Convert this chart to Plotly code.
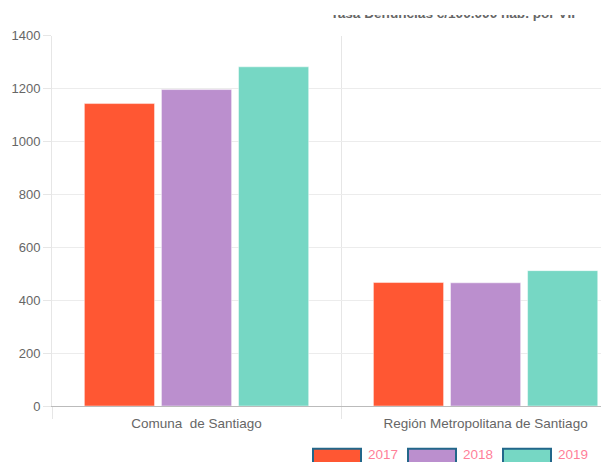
import plotly.graph_objects as go

categories = ["Comuna \u00a0de Santiago", "Región Metropolitana de Santiago"]
years = ["2017", "2018", "2019"]
values_2017 = [1144, 467]
values_2018 = [1197, 466]
values_2019 = [1283, 512]
series_values = [values_2017, values_2018, values_2019]
colors = ["#ff5733", "#bb8fce", "#76d7c4"]
y_ticks = [0, 200, 400, 600, 800, 1000, 1200, 1400]
title_text = "Tasa Denuncias c/100.000 hab. por VIF"

# page offset of the figure (default body margin)
OFF = 8
W, H = 609 - OFF, 462 - OFF
AX_X = 52 - OFF        # y-axis x position (figure px)
Y_TOP = 34 - OFF       # 1400 level
Y_BOT = 406 - OFF      # 0 level
CLIP_Y = 13 - OFF      # title clip line
ML, MT, MB = AX_X, CLIP_Y, H - Y_BOT
plot_h = H - MT - MB
main_top = (Y_BOT - Y_TOP) / plot_h


def px_x(px):
    return (px - OFF - AX_X) / (W - AX_X)


def px_y(py):
    return (Y_BOT - (py - OFF)) / plot_h


fig = go.Figure()
for name, vals, col in zip(years, series_values, colors):
    fig.add_trace(go.Bar(
        x=categories, y=vals, name=name,
        marker=dict(color=col, line=dict(color="rgba(255,255,255,0.45)", width=1)),
        showlegend=False, hoverinfo="x+y+name",
    ))

# clipped title (text trace on an overlay axis, clipped to its area)
fig.add_trace(go.Scatter(
    x=[455], y=[13.0], mode="text", text=[f"<b>{title_text}</b>"],
    textfont=dict(family="Liberation Sans, Arial", size=13.6, color="#666666"),
    xaxis="x2", yaxis="y2", cliponaxis=True, showlegend=False, hoverinfo="skip",
))

shapes = []
annotations = []
lx0, lstep, lw = 313, 95, 48
for i, (name, col) in enumerate(zip(years, colors)):
    x0 = lx0 + i * lstep
    shapes.append(dict(
        type="rect", xref="paper", yref="paper",
        x0=px_x(x0), x1=px_x(x0 + lw),
        y0=px_y(449), y1=px_y(470),
        fillcolor=col, line=dict(color="#22678a", width=2),
    ))
    annotations.append(dict(
        xref="paper", yref="paper",
        x=px_x(x0 + lw + 5), y=px_y(455),
        xanchor="left", yanchor="middle", text=name, showarrow=False,
        font=dict(family="Liberation Sans, Arial", size=13.5, color="#ff7f99"),
    ))

fig.update_layout(
    width=W, height=H,
    margin=dict(l=ML, r=0, t=MT, b=MB, pad=0),
    paper_bgcolor="white", plot_bgcolor="white",
    barmode="group", bargap=0.2, bargroupgap=0.09,
    font=dict(family="Liberation Sans, Arial", size=13, color="#666666"),
    xaxis=dict(
        type="category", range=[-0.5, 1.427], tickson="boundaries",
        showgrid=True, gridcolor="#e6e6e6", gridwidth=1,
        ticks="outside", ticklen=12, tickcolor="#e6e6e6",
        ticklabelstandoff=5,
        showline=True, linecolor="#bbbbbb", linewidth=1,
        tickfont=dict(size=13.5, color="#666666"),
        domain=[0, 1], anchor="y", fixedrange=True,
    ),
    yaxis=dict(
        range=[0, 1400], tickvals=y_ticks, domain=[0, main_top],
        showgrid=True, gridcolor="#ececec", gridwidth=1,
        ticks="outside", ticklen=8, tickcolor="#e6e6e6",
        showline=True, linecolor="#e6e6e6", linewidth=1,
        zeroline=False,
        tickfont=dict(size=13, color="#666666"), fixedrange=True,
    ),
    xaxis2=dict(range=[52, 609], domain=[0, 1], anchor="y2", visible=False, fixedrange=True),
    yaxis2=dict(range=[34, 13], domain=[main_top, 1], anchor="x2", visible=False, fixedrange=True),
    shapes=shapes,
    annotations=annotations,
)

fig.write_html("out.html", config={"displayModeBar": False})
